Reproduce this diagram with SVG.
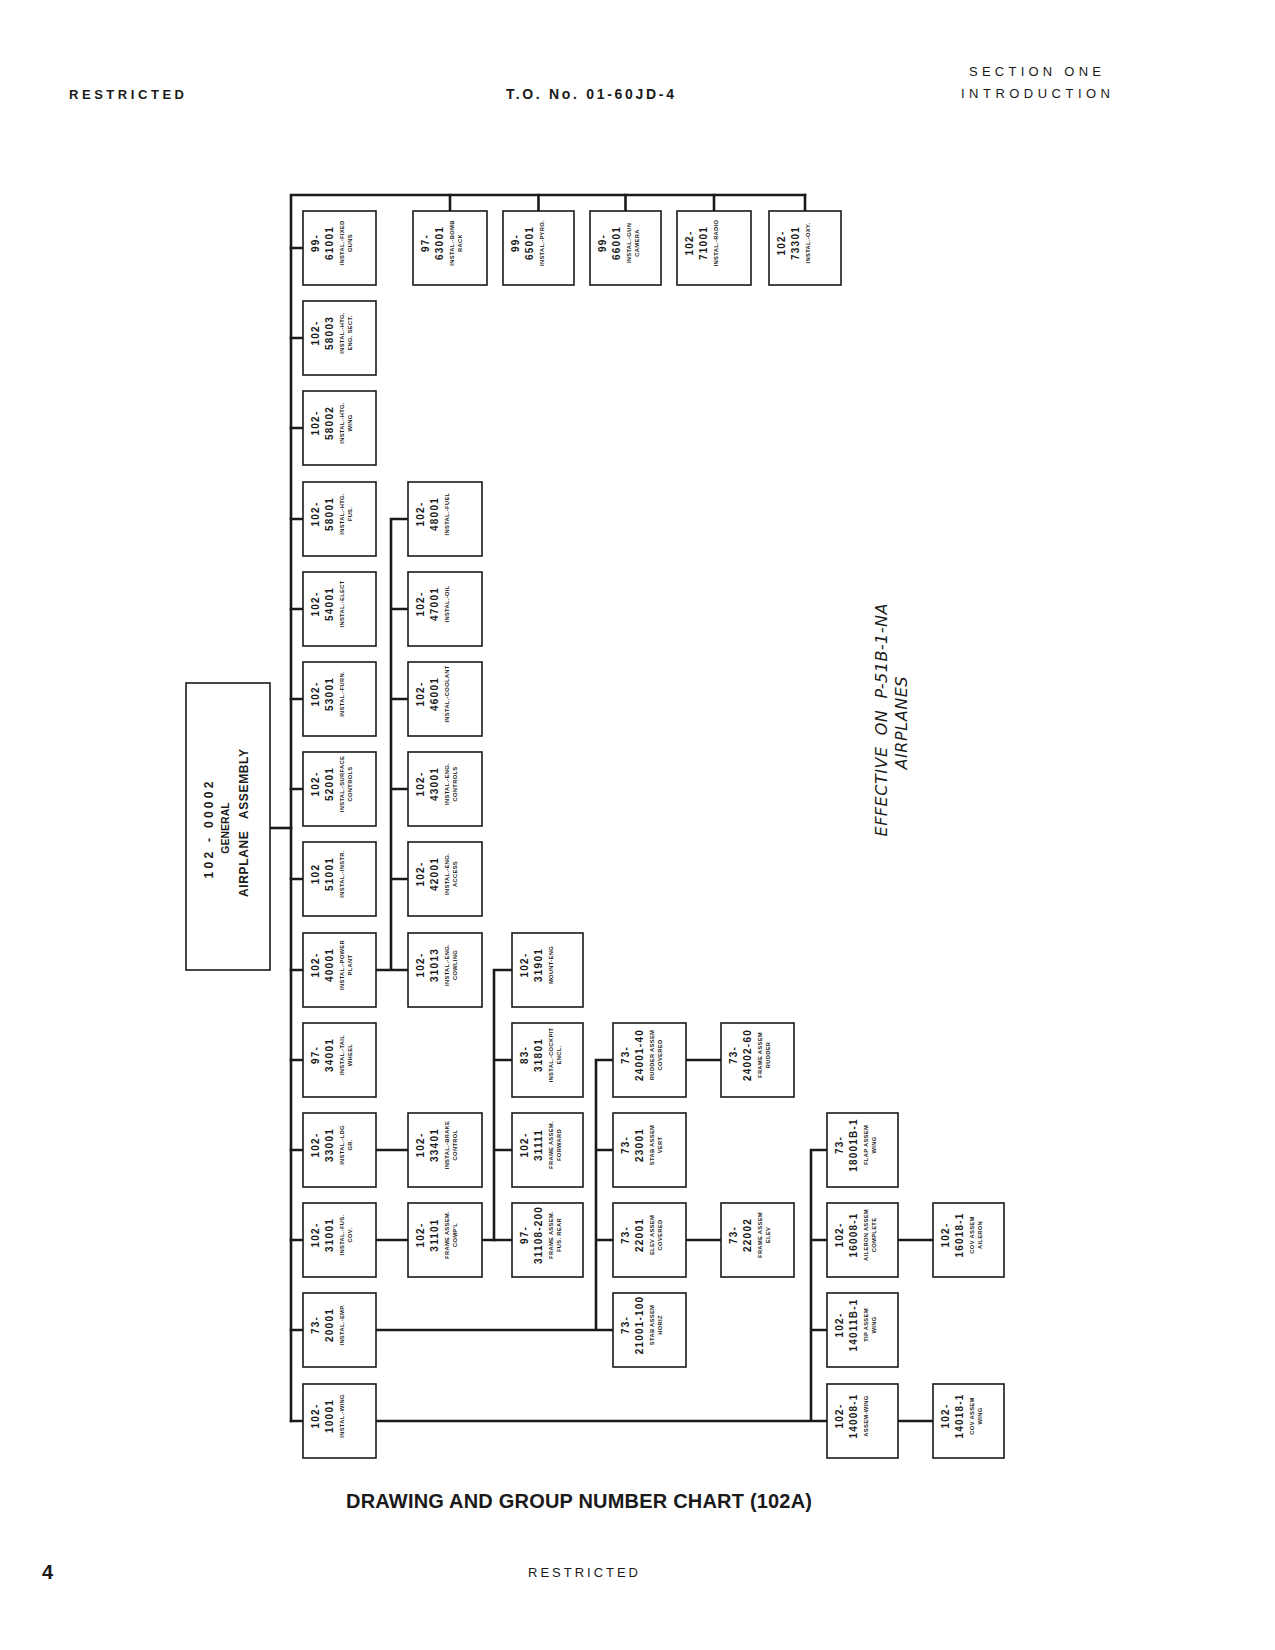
<svg xmlns="http://www.w3.org/2000/svg" width="1275" height="1650" viewBox="0 0 1275 1650">
<style>
.bg{fill:#fff}
.box{fill:#fff;stroke:#1a1a1a;stroke-width:1.6}
.ln{stroke:#1a1a1a;stroke-width:2.6;fill:none;stroke-linecap:square}
text{font-family:"Liberation Sans",Arial,sans-serif;fill:#1a1a1a}
.nm{font-size:10px;font-weight:bold;letter-spacing:1.2px;text-anchor:middle}
.lb{font-size:5.8px;font-weight:bold;letter-spacing:0.3px;text-anchor:middle}
.big{font-size:12px;font-weight:bold;text-anchor:middle}
.hd{font-size:13px;font-weight:bold}
.hl{font-size:13px;font-weight:normal}
.cap{font-size:20px;font-weight:bold}
.eff{font-family:"DejaVu Sans",sans-serif;font-style:italic;font-size:16px;text-anchor:middle}
</style>
<rect class="bg" x="0" y="0" width="1275" height="1650"/>

<g id="header">
<text class="hd" x="69" y="98.5" textLength="115" lengthAdjust="spacing">RESTRICTED</text>
<text class="hd" style="font-size:14px" x="506" y="98.5" textLength="168" lengthAdjust="spacing">T.O. No. 01-60JD-4</text>
<text class="hl" x="969" y="75.5" textLength="132" lengthAdjust="spacing">SECTION ONE</text>
<text class="hl" x="961" y="97.5" textLength="149" lengthAdjust="spacing">INTRODUCTION</text>
</g>

<g id="connectors">
<path class="ln" d="M291,195 H805 M291,195 V1421"/>
<path class="ln" d="M450,195 V211 M538.5,195 V211 M625.5,195 V211 M714,195 V211 M805,195 V211"/>
<path class="ln" d="M291,248 H303 M291,338 H303 M291,428 H303 M291,519 H303 M291,609 H303 M291,699 H303 M291,789 H303 M291,879 H303 M291,970 H303 M291,1060 H303 M291,1150 H303 M291,1240 H303 M291,1330 H303 M291,1421 H303"/>
<path class="ln" d="M270,828 H291"/>
<path class="ln" d="M391,519 V970 M391,519 H408 M391,609 H408 M391,699 H408 M391,789 H408 M391,879 H408 M376,970 H408"/>
<path class="ln" d="M376,1150 H408 M376,1240 H408 M482,1240 H512"/>
<path class="ln" d="M494,970 V1240 M494,970 H512 M494,1060 H512 M494,1150 H512"/>
<path class="ln" d="M376,1330 H613 M596,1060 V1330 M596,1060 H613 M596,1150 H613 M596,1240 H613"/>
<path class="ln" d="M686,1060 H721 M686,1240 H721"/>
<path class="ln" d="M376,1421 H827 M811,1150 V1421 M811,1150 H827 M811,1240 H827 M811,1330 H827"/>
<path class="ln" d="M898,1240 H933 M898,1421 H933"/>
</g>

<g id="n-102-00002">
<rect class="box" x="186" y="683" width="84" height="287"/>
<text class="big" transform="translate(212.5,830) rotate(-90)" textLength="97" lengthAdjust="spacing">102 - 00002</text>
<text class="big" style="font-size:10.5px" transform="translate(229,828) rotate(-90)">GENERAL</text>
<text class="big" transform="translate(247.5,823) rotate(-90)" textLength="148" lengthAdjust="spacing" xml:space="preserve">AIRPLANE   ASSEMBLY</text>
</g>

<g id="n-99-61001" transform="translate(303,211)"><rect class="box" width="73" height="74"/>
<text class="nm" transform="translate(16.4,32) rotate(-90)">99-</text>
<text class="nm" transform="translate(30.4,32) rotate(-90)">61001</text>
<text class="lb" transform="translate(41,32) rotate(-90)">INSTAL.-FIXED</text>
<text class="lb" transform="translate(49,32) rotate(-90)">GUNS</text></g>

<g id="n-102-58003" transform="translate(303,301)"><rect class="box" width="73" height="74"/>
<text class="nm" transform="translate(16.4,32) rotate(-90)">102-</text>
<text class="nm" transform="translate(30.4,32) rotate(-90)">58003</text>
<text class="lb" transform="translate(41,32) rotate(-90)">INSTAL.-HTG.</text>
<text class="lb" transform="translate(49,32) rotate(-90)">ENG. SECT.</text></g>

<g id="n-102-58002" transform="translate(303,391)"><rect class="box" width="73" height="74"/>
<text class="nm" transform="translate(16.4,32) rotate(-90)">102-</text>
<text class="nm" transform="translate(30.4,32) rotate(-90)">58002</text>
<text class="lb" transform="translate(41,32) rotate(-90)">INSTAL.-HTG.</text>
<text class="lb" transform="translate(49,32) rotate(-90)">WING</text></g>

<g id="n-102-58001" transform="translate(303,482)"><rect class="box" width="73" height="74"/>
<text class="nm" transform="translate(16.4,32) rotate(-90)">102-</text>
<text class="nm" transform="translate(30.4,32) rotate(-90)">58001</text>
<text class="lb" transform="translate(41,32) rotate(-90)">INSTAL.-HTG.</text>
<text class="lb" transform="translate(49,32) rotate(-90)">FUS.</text></g>

<g id="n-102-54001" transform="translate(303,572)"><rect class="box" width="73" height="74"/>
<text class="nm" transform="translate(16.4,32) rotate(-90)">102-</text>
<text class="nm" transform="translate(30.4,32) rotate(-90)">54001</text>
<text class="lb" transform="translate(41,32) rotate(-90)">INSTAL.-ELECT</text></g>

<g id="n-102-53001" transform="translate(303,662)"><rect class="box" width="73" height="74"/>
<text class="nm" transform="translate(16.4,32) rotate(-90)">102-</text>
<text class="nm" transform="translate(30.4,32) rotate(-90)">53001</text>
<text class="lb" transform="translate(41,32) rotate(-90)">INSTAL.-FURN.</text></g>

<g id="n-102-52001" transform="translate(303,752)"><rect class="box" width="73" height="74"/>
<text class="nm" transform="translate(16.4,32) rotate(-90)">102-</text>
<text class="nm" transform="translate(30.4,32) rotate(-90)">52001</text>
<text class="lb" transform="translate(41,32) rotate(-90)">INSTAL.-SURFACE</text>
<text class="lb" transform="translate(49,32) rotate(-90)">CONTROLS</text></g>

<g id="n-102-51001" transform="translate(303,842)"><rect class="box" width="73" height="74"/>
<text class="nm" transform="translate(16.4,32) rotate(-90)">102</text>
<text class="nm" transform="translate(30.4,32) rotate(-90)">51001</text>
<text class="lb" transform="translate(41,32) rotate(-90)">INSTAL.-INSTR.</text></g>

<g id="n-102-40001" transform="translate(303,933)"><rect class="box" width="73" height="74"/>
<text class="nm" transform="translate(16.4,32) rotate(-90)">102-</text>
<text class="nm" transform="translate(30.4,32) rotate(-90)">40001</text>
<text class="lb" transform="translate(41,32) rotate(-90)">INSTAL.-POWER</text>
<text class="lb" transform="translate(49,32) rotate(-90)">PLANT</text></g>

<g id="n-97-34001" transform="translate(303,1023)"><rect class="box" width="73" height="74"/>
<text class="nm" transform="translate(16.4,32) rotate(-90)">97-</text>
<text class="nm" transform="translate(30.4,32) rotate(-90)">34001</text>
<text class="lb" transform="translate(41,32) rotate(-90)">INSTAL.-TAIL</text>
<text class="lb" transform="translate(49,32) rotate(-90)">WHEEL</text></g>

<g id="n-102-33001" transform="translate(303,1113)"><rect class="box" width="73" height="74"/>
<text class="nm" transform="translate(16.4,32) rotate(-90)">102-</text>
<text class="nm" transform="translate(30.4,32) rotate(-90)">33001</text>
<text class="lb" transform="translate(41,32) rotate(-90)">INSTAL.-LDG</text>
<text class="lb" transform="translate(49,32) rotate(-90)">GR.</text></g>

<g id="n-102-31001" transform="translate(303,1203)"><rect class="box" width="73" height="74"/>
<text class="nm" transform="translate(16.4,32) rotate(-90)">102-</text>
<text class="nm" transform="translate(30.4,32) rotate(-90)">31001</text>
<text class="lb" transform="translate(41,32) rotate(-90)">INSTAL.-FUS.</text>
<text class="lb" transform="translate(49,32) rotate(-90)">COV.</text></g>

<g id="n-73-20001" transform="translate(303,1293)"><rect class="box" width="73" height="74"/>
<text class="nm" transform="translate(16.4,32) rotate(-90)">73-</text>
<text class="nm" transform="translate(30.4,32) rotate(-90)">20001</text>
<text class="lb" transform="translate(41,32) rotate(-90)">INSTAL.-EMP.</text></g>

<g id="n-102-10001" transform="translate(303,1384)"><rect class="box" width="73" height="74"/>
<text class="nm" transform="translate(16.4,32) rotate(-90)">102-</text>
<text class="nm" transform="translate(30.4,32) rotate(-90)">10001</text>
<text class="lb" transform="translate(41,32) rotate(-90)">INSTAL.-WING</text></g>

<g id="n-97-63001" transform="translate(413,211)"><rect class="box" width="74" height="74"/>
<text class="nm" transform="translate(16.4,32) rotate(-90)">97-</text>
<text class="nm" transform="translate(30.4,32) rotate(-90)">63001</text>
<text class="lb" transform="translate(41,32) rotate(-90)">INSTAL.-BOMB</text>
<text class="lb" transform="translate(49,32) rotate(-90)">RACK</text></g>

<g id="n-99-65001" transform="translate(503,211)"><rect class="box" width="71" height="74"/>
<text class="nm" transform="translate(16.4,32) rotate(-90)">99-</text>
<text class="nm" transform="translate(30.4,32) rotate(-90)">65001</text>
<text class="lb" transform="translate(41,32) rotate(-90)">INSTAL.-PYRO.</text></g>

<g id="n-99-66001" transform="translate(590,211)"><rect class="box" width="71" height="74"/>
<text class="nm" transform="translate(16.4,32) rotate(-90)">99-</text>
<text class="nm" transform="translate(30.4,32) rotate(-90)">66001</text>
<text class="lb" transform="translate(41,32) rotate(-90)">INSTAL.-GUN</text>
<text class="lb" transform="translate(49,32) rotate(-90)">CAMERA</text></g>

<g id="n-102-71001" transform="translate(677,211)"><rect class="box" width="74" height="74"/>
<text class="nm" transform="translate(16.4,32) rotate(-90)">102-</text>
<text class="nm" transform="translate(30.4,32) rotate(-90)">71001</text>
<text class="lb" transform="translate(41,32) rotate(-90)">INSTAL.-RADIO</text></g>

<g id="n-102-73301" transform="translate(769,211)"><rect class="box" width="72" height="74"/>
<text class="nm" transform="translate(16.4,32) rotate(-90)">102-</text>
<text class="nm" transform="translate(30.4,32) rotate(-90)">73301</text>
<text class="lb" transform="translate(41,32) rotate(-90)">INSTAL.-OXY.</text></g>

<g id="n-102-48001" transform="translate(408,482)"><rect class="box" width="74" height="74"/>
<text class="nm" transform="translate(16.4,32) rotate(-90)">102-</text>
<text class="nm" transform="translate(30.4,32) rotate(-90)">48001</text>
<text class="lb" transform="translate(41,32) rotate(-90)">INSTAL.-FUEL</text></g>

<g id="n-102-47001" transform="translate(408,572)"><rect class="box" width="74" height="74"/>
<text class="nm" transform="translate(16.4,32) rotate(-90)">102-</text>
<text class="nm" transform="translate(30.4,32) rotate(-90)">47001</text>
<text class="lb" transform="translate(41,32) rotate(-90)">INSTAL.-OIL</text></g>

<g id="n-102-46001" transform="translate(408,662)"><rect class="box" width="74" height="74"/>
<text class="nm" transform="translate(16.4,32) rotate(-90)">102-</text>
<text class="nm" transform="translate(30.4,32) rotate(-90)">46001</text>
<text class="lb" transform="translate(41,32) rotate(-90)">INSTAL.-COOLANT</text></g>

<g id="n-102-43001" transform="translate(408,752)"><rect class="box" width="74" height="74"/>
<text class="nm" transform="translate(16.4,32) rotate(-90)">102-</text>
<text class="nm" transform="translate(30.4,32) rotate(-90)">43001</text>
<text class="lb" transform="translate(41,32) rotate(-90)">INSTAL.-ENG.</text>
<text class="lb" transform="translate(49,32) rotate(-90)">CONTROLS</text></g>

<g id="n-102-42001" transform="translate(408,842)"><rect class="box" width="74" height="74"/>
<text class="nm" transform="translate(16.4,32) rotate(-90)">102-</text>
<text class="nm" transform="translate(30.4,32) rotate(-90)">42001</text>
<text class="lb" transform="translate(41,32) rotate(-90)">INSTAL.-ENG.</text>
<text class="lb" transform="translate(49,32) rotate(-90)">ACCESS</text></g>

<g id="n-102-31013" transform="translate(408,933)"><rect class="box" width="74" height="74"/>
<text class="nm" transform="translate(16.4,32) rotate(-90)">102-</text>
<text class="nm" transform="translate(30.4,32) rotate(-90)">31013</text>
<text class="lb" transform="translate(41,32) rotate(-90)">INSTAL.-ENG.</text>
<text class="lb" transform="translate(49,32) rotate(-90)">COWLING</text></g>

<g id="n-102-33401" transform="translate(408,1113)"><rect class="box" width="74" height="74"/>
<text class="nm" transform="translate(16.4,32) rotate(-90)">102-</text>
<text class="nm" transform="translate(30.4,32) rotate(-90)">33401</text>
<text class="lb" transform="translate(41,32) rotate(-90)">INSTAL.-BRAKE</text>
<text class="lb" transform="translate(49,32) rotate(-90)">CONTROL</text></g>

<g id="n-102-31101" transform="translate(408,1203)"><rect class="box" width="74" height="74"/>
<text class="nm" transform="translate(16.4,32) rotate(-90)">102-</text>
<text class="nm" transform="translate(30.4,32) rotate(-90)">31101</text>
<text class="lb" transform="translate(41,32) rotate(-90)">FRAME ASSEM.</text>
<text class="lb" transform="translate(49,32) rotate(-90)">COMP'L</text></g>

<g id="n-102-31901" transform="translate(512,933)"><rect class="box" width="71" height="74"/>
<text class="nm" transform="translate(16.4,32) rotate(-90)">102-</text>
<text class="nm" transform="translate(30.4,32) rotate(-90)">31901</text>
<text class="lb" transform="translate(41,32) rotate(-90)">MOUNT-ENG</text></g>

<g id="n-83-31801" transform="translate(512,1023)"><rect class="box" width="71" height="74"/>
<text class="nm" transform="translate(16.4,32) rotate(-90)">83-</text>
<text class="nm" transform="translate(30.4,32) rotate(-90)">31801</text>
<text class="lb" transform="translate(41,32) rotate(-90)">INSTAL.-COCKPIT</text>
<text class="lb" transform="translate(49,32) rotate(-90)">ENCL.</text></g>

<g id="n-102-31111" transform="translate(512,1113)"><rect class="box" width="71" height="74"/>
<text class="nm" transform="translate(16.4,32) rotate(-90)">102-</text>
<text class="nm" transform="translate(30.4,32) rotate(-90)">31111</text>
<text class="lb" transform="translate(41,32) rotate(-90)">FRAME ASSEM.</text>
<text class="lb" transform="translate(49,32) rotate(-90)">FORWARD</text></g>

<g id="n-97-31108-200" transform="translate(512,1203)"><rect class="box" width="71" height="74"/>
<text class="nm" transform="translate(16.4,32) rotate(-90)">97-</text>
<text class="nm" transform="translate(30.4,32) rotate(-90)">31108-200</text>
<text class="lb" transform="translate(41,32) rotate(-90)">FRAME ASSEM.</text>
<text class="lb" transform="translate(49,32) rotate(-90)">FUS. REAR</text></g>

<g id="n-73-24001-40" transform="translate(613,1023)"><rect class="box" width="73" height="74"/>
<text class="nm" transform="translate(16.4,32) rotate(-90)">73-</text>
<text class="nm" transform="translate(30.4,32) rotate(-90)">24001-40</text>
<text class="lb" transform="translate(41,32) rotate(-90)">RUDDER ASSEM</text>
<text class="lb" transform="translate(49,32) rotate(-90)">COVERED</text></g>

<g id="n-73-23001" transform="translate(613,1113)"><rect class="box" width="73" height="74"/>
<text class="nm" transform="translate(16.4,32) rotate(-90)">73-</text>
<text class="nm" transform="translate(30.4,32) rotate(-90)">23001</text>
<text class="lb" transform="translate(41,32) rotate(-90)">STAB ASSEM</text>
<text class="lb" transform="translate(49,32) rotate(-90)">VERT</text></g>

<g id="n-73-22001" transform="translate(613,1203)"><rect class="box" width="73" height="74"/>
<text class="nm" transform="translate(16.4,32) rotate(-90)">73-</text>
<text class="nm" transform="translate(30.4,32) rotate(-90)">22001</text>
<text class="lb" transform="translate(41,32) rotate(-90)">ELEV ASSEM</text>
<text class="lb" transform="translate(49,32) rotate(-90)">COVERED</text></g>

<g id="n-73-21001-100" transform="translate(613,1293)"><rect class="box" width="73" height="74"/>
<text class="nm" transform="translate(16.4,32) rotate(-90)">73-</text>
<text class="nm" transform="translate(30.4,32) rotate(-90)">21001-100</text>
<text class="lb" transform="translate(41,32) rotate(-90)">STAB ASSEM</text>
<text class="lb" transform="translate(49,32) rotate(-90)">HORIZ</text></g>

<g id="n-73-24002-60" transform="translate(721,1023)"><rect class="box" width="73" height="74"/>
<text class="nm" transform="translate(16.4,32) rotate(-90)">73-</text>
<text class="nm" transform="translate(30.4,32) rotate(-90)">24002-60</text>
<text class="lb" transform="translate(41,32) rotate(-90)">FRAME ASSEM</text>
<text class="lb" transform="translate(49,32) rotate(-90)">RUDDER</text></g>

<g id="n-73-22002" transform="translate(721,1203)"><rect class="box" width="73" height="74"/>
<text class="nm" transform="translate(16.4,32) rotate(-90)">73-</text>
<text class="nm" transform="translate(30.4,32) rotate(-90)">22002</text>
<text class="lb" transform="translate(41,32) rotate(-90)">FRAME ASSEM</text>
<text class="lb" transform="translate(49,32) rotate(-90)">ELEV</text></g>

<g id="n-73-18001B-1" transform="translate(827,1113)"><rect class="box" width="71" height="74"/>
<text class="nm" transform="translate(16.4,32) rotate(-90)">73-</text>
<text class="nm" transform="translate(30.4,32) rotate(-90)">18001B-1</text>
<text class="lb" transform="translate(41,32) rotate(-90)">FLAP ASSEM</text>
<text class="lb" transform="translate(49,32) rotate(-90)">WING</text></g>

<g id="n-102-16008-1" transform="translate(827,1203)"><rect class="box" width="71" height="74"/>
<text class="nm" transform="translate(16.4,32) rotate(-90)">102-</text>
<text class="nm" transform="translate(30.4,32) rotate(-90)">16008-1</text>
<text class="lb" transform="translate(41,32) rotate(-90)">AILERON ASSEM</text>
<text class="lb" transform="translate(49,32) rotate(-90)">COMPLETE</text></g>

<g id="n-102-14011B-1" transform="translate(827,1293)"><rect class="box" width="71" height="74"/>
<text class="nm" transform="translate(16.4,32) rotate(-90)">102-</text>
<text class="nm" transform="translate(30.4,32) rotate(-90)">14011B-1</text>
<text class="lb" transform="translate(41,32) rotate(-90)">TIP ASSEM</text>
<text class="lb" transform="translate(49,32) rotate(-90)">WING</text></g>

<g id="n-102-14008-1" transform="translate(827,1384)"><rect class="box" width="71" height="74"/>
<text class="nm" transform="translate(16.4,32) rotate(-90)">102-</text>
<text class="nm" transform="translate(30.4,32) rotate(-90)">14008-1</text>
<text class="lb" transform="translate(41,32) rotate(-90)">ASSEM-WING</text></g>

<g id="n-102-16018-1" transform="translate(933,1203)"><rect class="box" width="71" height="74"/>
<text class="nm" transform="translate(16.4,32) rotate(-90)">102-</text>
<text class="nm" transform="translate(30.4,32) rotate(-90)">16018-1</text>
<text class="lb" transform="translate(41,32) rotate(-90)">COV ASSEM</text>
<text class="lb" transform="translate(49,32) rotate(-90)">AILERON</text></g>

<g id="n-102-14018-1" transform="translate(933,1384)"><rect class="box" width="71" height="74"/>
<text class="nm" transform="translate(16.4,32) rotate(-90)">102-</text>
<text class="nm" transform="translate(30.4,32) rotate(-90)">14018-1</text>
<text class="lb" transform="translate(41,32) rotate(-90)">COV ASSEM</text>
<text class="lb" transform="translate(49,32) rotate(-90)">WING</text></g>

<g id="effectivity">
<text class="eff" transform="translate(887,720) rotate(-90)" textLength="233" lengthAdjust="spacing" xml:space="preserve">EFFECTIVE  ON  P-51B-1-NA</text>
<text class="eff" transform="translate(907,723) rotate(-90)" textLength="93" lengthAdjust="spacing">AIRPLANES</text>
</g>

<g id="footer">
<text class="cap" x="346" y="1508" textLength="466" lengthAdjust="spacing">DRAWING AND GROUP NUMBER CHART (102A)</text>
<text class="cap" x="42" y="1579">4</text>
<text class="hl" x="528" y="1576.5" textLength="110" lengthAdjust="spacing">RESTRICTED</text>
</g>
</svg>
